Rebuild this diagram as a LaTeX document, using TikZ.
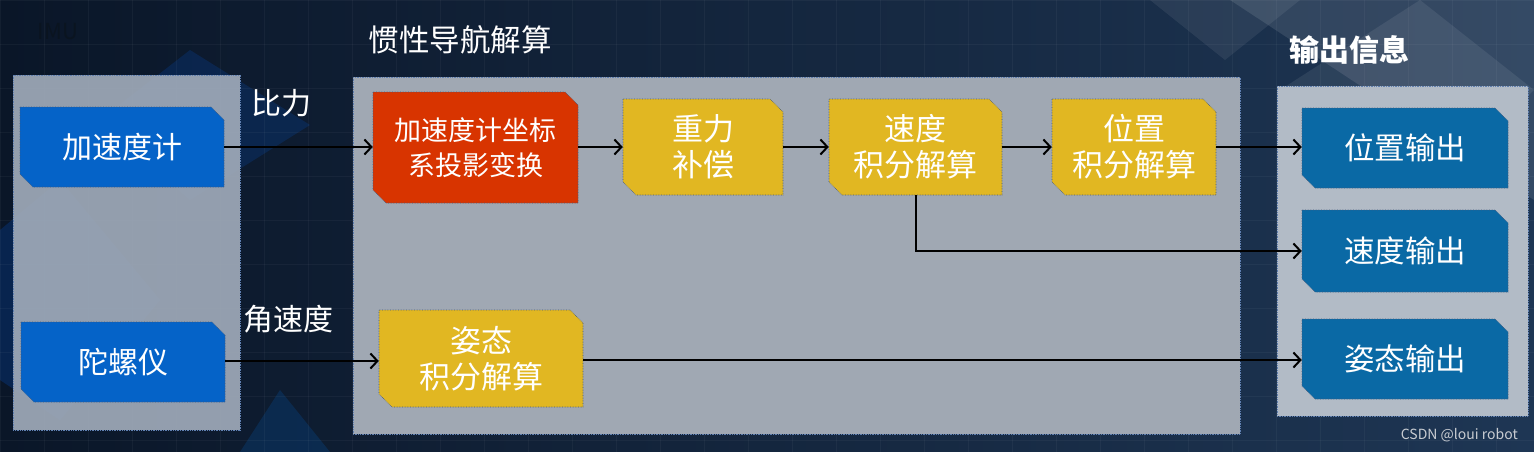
\documentclass[tikz,border=0pt]{standalone}
\usepackage{fontspec}
\setmainfont{Noto Sans CJK SC}
\usetikzlibrary{arrows.meta}
\definecolor{bgA}{HTML}{0A1628}
\definecolor{bgB}{HTML}{1E3654}
\definecolor{panelL}{HTML}{9FAAB9}
\definecolor{panelM}{HTML}{A0A8B3}
\definecolor{panelR}{HTML}{B2BBC6}
\definecolor{pborder}{HTML}{5F7FB0}
\definecolor{inBlue}{HTML}{0563C8}
\definecolor{outBlue}{HTML}{0A69A5}
\definecolor{procRed}{HTML}{D83400}
\definecolor{procYel}{HTML}{E1B722}
\definecolor{imuText}{HTML}{0A1420}
\definecolor{wmark}{HTML}{C8CCD2}
\tikzset{
  panelbox/.style={draw=pborder, line width=0.7pt, densely dotted},
  boxborder/.style={draw=pborder!70!black, line width=0.6pt, densely dotted},
  boxtext/.style={inner sep=0pt, text=white, font=\fontsize{30}{36}\selectfont, align=center},
  yeltext/.style={font=\fontsize{31}{36}\selectfont},
  redtext/.style={font=\fontsize{27}{35}\selectfont},
  outtext/.style={font=\fontsize{30.5}{36}\selectfont},
  lbl/.style={text=white, font=\fontsize{30}{32}\selectfont, inner sep=0pt},
  flow/.style={draw=black, line width=2pt, -{Straight Barb[length=7pt,width=15pt,line width=2pt]}},
}
% #1 name, #2 x1, #3 y1, #4 x2, #5 y2, #6 colour, #7 extra text style, #8 text
\newcommand{\chambox}[8]{%
  \path[fill=#6, boxborder] (#2,#3) -- (#4-13,#3) -- (#4,#3+13) -- (#4,#5) -- (#2+13,#5) -- (#2,#5-13) -- cycle;
  \node[boxtext, #7, minimum width={(#4-#2)*1pt}, minimum height={(#5-#3)*1pt}] (#1) at ({(#2+#4)/2},{(#3+#5)/2}) {#8};
}
\begin{document}
\begin{tikzpicture}[x=1pt,y=-1pt]
\useasboundingbox (0,0) rectangle (1534,452);
% background
\shade[left color=bgA, right color=bgB] (0,0) rectangle (1534,452);
\fill[white, opacity=0.10] (1230,0) -- (1534,0) -- (1534,200) -- cycle;
\fill[white, opacity=0.08] (1280,90) -- (1420,0) -- (1534,90) -- (1420,200) -- cycle;
\fill[white, opacity=0.07] (1150,0) -- (1300,0) -- (1225,60) -- cycle;
\fill[blue!60!cyan, opacity=0.18] (0,230) -- (60,180) -- (160,300) -- (60,420) -- (0,380) -- cycle;
\fill[blue!60!cyan, opacity=0.15] (100,120) -- (190,50) -- (310,125) -- (190,200) -- cycle;
\fill[blue!50!cyan, opacity=0.15] (240,452) -- (280,390) -- (330,452) -- cycle;
\foreach \gx in {0,44,...,1534} \draw[white, opacity=0.04, line width=0.6pt] (\gx,0) -- (\gx,452);
\foreach \gy in {0,44,...,452} \draw[white, opacity=0.04, line width=0.6pt] (0,\gy) -- (1534,\gy);
% panels
\path[fill=panelL, fill opacity=0.92, panelbox] (13,75) rectangle (240,430);
\path[fill=panelM, panelbox] (353,77) rectangle (1240,434);
\path[fill=panelR, panelbox] (1277,86) rectangle (1528,416);
% titles
\node[text=imuText, font=\fontsize{22}{24}\selectfont, inner sep=0pt] (imut) at (58,32) {IMU};
\node[lbl, font=\fontsize{30.5}{32}\selectfont] (inst) at (460,40) {惯性导航解算};
\node[lbl, font=\fontsize{30}{32}\selectfont\bfseries] (outt) at (1349,50) {输出信息};
% boxes
\chambox{acc}{20}{107}{224}{187}{inBlue}{}{加速度计}
\chambox{gyro}{21}{322}{225}{402}{inBlue}{}{陀螺仪}
\chambox{proj}{373}{92}{578}{203}{procRed}{redtext}{加速度计坐标\\系投影变换}
\chambox{grav}{623}{99}{783}{195}{procYel}{yeltext}{重力\\补偿}
\chambox{vel}{829}{99}{1002}{195}{procYel}{yeltext}{速度\\积分解算}
\chambox{pos}{1052}{99}{1216}{195}{procYel}{yeltext}{位置\\积分解算}
\chambox{att}{379}{310}{583}{407}{procYel}{yeltext}{姿态\\积分解算}
\chambox{posout}{1302}{108}{1508}{188}{outBlue}{outtext}{位置输出}
\chambox{velout}{1302}{210}{1508}{292}{outBlue}{outtext}{速度输出}
\chambox{attout}{1302}{319}{1508}{399}{outBlue}{outtext}{姿态输出}
% labels
\node[lbl] (bili) at (281,103) {比力};
\node[lbl] (jsd) at (288,319) {角速度};
% connectors
\draw[flow] (acc.east |- 0,147) -- (proj.west |- 0,147);
\draw[flow] (proj.east |- 0,147) -- (grav.west |- 0,147);
\draw[flow] (grav.east |- 0,147) -- (vel.west |- 0,147);
\draw[flow] (vel.east |- 0,147) -- (pos.west |- 0,147);
\draw[flow] (pos.east |- 0,147) -- (posout.west |- 0,147);
\draw[flow] (vel.south) |- (velout.west);
\draw[flow] (gyro.east |- 0,361) -- (att.west |- 0,361);
\draw[flow] (att.east |- 0,360) -- (attout.west |- 0,360);
% watermark
\node[text=wmark, font=\fontsize{14}{16}\selectfont, inner sep=0pt, anchor=east] (wm) at (1518,435) {CSDN @loui robot};
\end{tikzpicture}
\end{document}
